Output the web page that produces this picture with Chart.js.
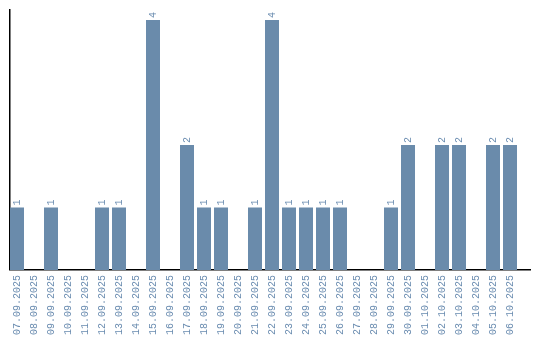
<!DOCTYPE html>
<html>
<head>
<meta charset="utf-8">
<script src="https://cdn.jsdelivr.net/npm/chart.js@4.4.1/dist/chart.umd.min.js"></script>
<style>
  html, body { margin: 0; padding: 0; background: #fff; }
  #wrap { width: 540px; height: 340px; }
</style>
</head>
<body>
<div id="wrap"><canvas id="days-chart"></canvas></div>
<script>
const DAYS = [
  '07.09.2025', '08.09.2025', '09.09.2025', '10.09.2025', '11.09.2025',
  '12.09.2025', '13.09.2025', '14.09.2025', '15.09.2025', '16.09.2025',
  '17.09.2025', '18.09.2025', '19.09.2025', '20.09.2025', '21.09.2025',
  '22.09.2025', '23.09.2025', '24.09.2025', '25.09.2025', '26.09.2025',
  '27.09.2025', '28.09.2025', '29.09.2025', '30.09.2025', '01.10.2025',
  '02.10.2025', '03.10.2025', '04.10.2025', '05.10.2025', '06.10.2025'
];

const COUNTS = [
  1, 0, 1, 0, 0,
  1, 1, 0, 4, 0,
  2, 1, 1, 0, 1,
  4, 1, 1, 1, 1,
  0, 0, 1, 2, 0,
  2, 2, 0, 2, 2
];

const BAR_COLOR = '#6a8bab';
const TEXT_COLOR = '#6a8cb0';
const FONT = { family: '"Liberation Mono", "DejaVu Sans Mono", monospace', size: 10 };

// value labels on top of the bars, turned sideways like the x labels
const barValues = {
  id: 'barValues',
  afterDatasetsDraw(chart) {
    const ctx = chart.ctx;
    const meta = chart.getDatasetMeta(0);
    ctx.save();
    ctx.font = FONT.size + 'px ' + FONT.family;
    ctx.fillStyle = TEXT_COLOR;
    ctx.textAlign = 'left';
    ctx.textBaseline = 'middle';
    meta.data.forEach((bar, i) => {
      const v = COUNTS[i];
      if (!v) return;
      ctx.save();
      ctx.translate(bar.x, bar.y - 2);
      ctx.rotate(-Math.PI / 2);
      ctx.fillText(String(v), 0, 0);
      ctx.restore();
    });
    ctx.restore();
  }
};

function addDaysChart() {
  const ctx = document.getElementById('days-chart');
  if (!ctx) {
    return;
  }

  // bars sit on a linear index axis so the band can stop short of the axis end
  const points = COUNTS.map((v, i) => ({ x: i, y: v }));

  new Chart(ctx, {
    type: 'bar',
    data: {
      datasets: [{
        data: points,
        backgroundColor: BAR_COLOR,
        borderWidth: 0,
        barPercentage: 14 / 17,
        categoryPercentage: 1
      }]
    },
    options: {
      responsive: true,
      maintainAspectRatio: false,
      animation: false,
      layout: { padding: { left: 10, right: 10, top: 10, bottom: 0 } },
      plugins: {
        legend: { display: false },
        tooltip: { enabled: false }
      },
      scales: {
        x: {
          type: 'linear',
          offset: false,
          min: -7 / 17,
          max: 30.176,
          afterFit: (scale) => { scale.paddingRight = 0; },
          grid: { display: false, drawTicks: false },
          border: { display: true, color: '#000', width: 1.5 },
          ticks: {
            color: TEXT_COLOR,
            font: FONT,
            stepSize: 1,
            includeBounds: false,
            maxRotation: 90,
            minRotation: 90,
            autoSkip: false,
            padding: 5,
            callback: (value) => DAYS[value] || ''
          }
        },
        y: {
          beginAtZero: true,
          max: 4.16,
          grid: { display: false, drawTicks: false },
          border: { display: true, color: '#000', width: 1.5 },
          ticks: { display: false }
        }
      }
    },
    plugins: [barValues]
  });
}

addDaysChart();
</script>
</body>
</html>
